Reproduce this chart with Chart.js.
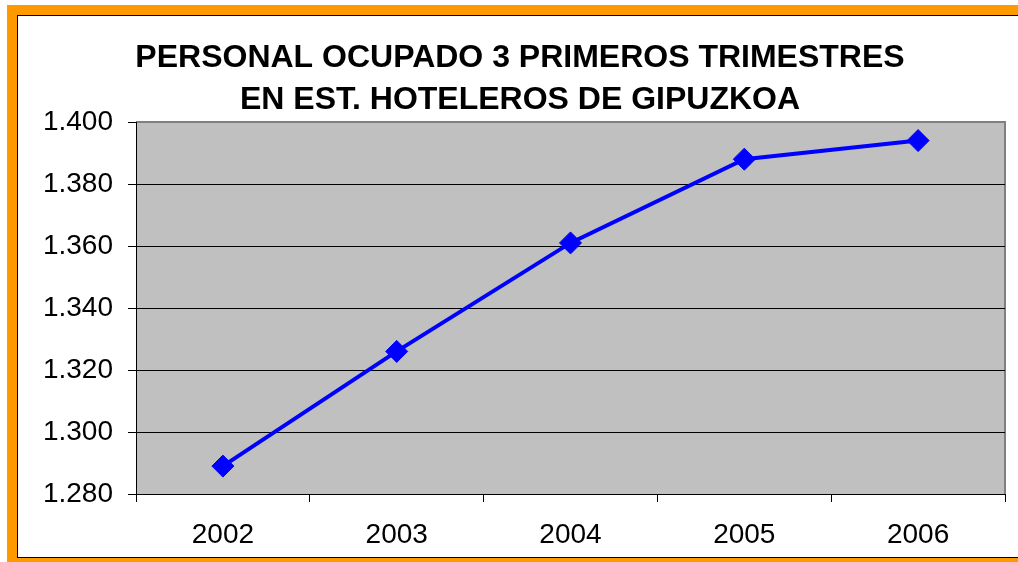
<!DOCTYPE html>
<html>
<head>
<meta charset="utf-8">
<script src="https://cdn.jsdelivr.net/npm/chart.js@4"></script>
<style>
  html, body { margin: 0; padding: 0; background: #fff; overflow: hidden; }
  #frame { position: absolute; left: 7px; top: 5px; width: 1040px; height: 570px; background: #FF9900; }
  #inner { position: absolute; left: 10px; top: 10px; width: 1040px; height: 541px; background: #fff; border: 1px solid #000; }
  #wrap { position: absolute; left: 0; top: 0; width: 1018px; height: 562px; }
</style>
</head>
<body>
<div id="frame"><div id="inner"></div></div>
<div id="wrap"><canvas id="chart"></canvas></div>
<script>
const years = ['2002', '2003', '2004', '2005', '2006'];
const personal = [1289, 1326, 1361, 1388, 1394];
const yMin = 1280;
const yMax = 1400;
const yStep = 20;
const titleLines = ['PERSONAL OCUPADO 3 PRIMEROS TRIMESTRES', 'EN EST. HOTELEROS DE GIPUZKOA'];

const font = '"Liberation Sans", Arial, sans-serif';

function fmt(v) {
  return Math.floor(v / 1000) + '.' + String(v % 1000).padStart(3, '0');
}

const plotBg = {
  id: 'plotBg',
  beforeDraw(chart) {
    const a = chart.chartArea;
    const ctx = chart.ctx;
    ctx.save();
    ctx.fillStyle = '#C0C0C0';
    ctx.fillRect(a.left, a.top, a.right - a.left, a.bottom - a.top);
    ctx.strokeStyle = '#808080';
    ctx.lineWidth = 2;
    ctx.beginPath();
    ctx.moveTo(a.left, a.top);
    ctx.lineTo(a.right, a.top);
    ctx.lineTo(a.right, a.bottom);
    ctx.stroke();
    ctx.restore();
  }
};

const ctx = document.getElementById('chart').getContext('2d');
const chart = new Chart(ctx, {
  type: 'line',
  data: {
    labels: years,
    datasets: [{
      data: personal,
      borderColor: '#0000FF',
      backgroundColor: '#0000FF',
      borderWidth: 4,
      tension: 0,
      pointStyle: 'rectRot',
      pointRadius: 11,
      pointBorderWidth: 1,
      pointBackgroundColor: '#0000FF',
      pointBorderColor: '#0000FF'
    }]
  },
  options: {
    responsive: true,
    maintainAspectRatio: false,
    animation: false,
    layout: { padding: { left: 35, right: 13, top: 0, bottom: 0 } },
    plugins: {
      legend: { display: false },
      tooltip: { enabled: false },
      title: {
        display: true,
        text: titleLines,
        color: '#000',
        font: { family: font, size: 32, weight: 'bold', lineHeight: 1.3125 },
        padding: { top: 37, bottom: 1 }
      }
    },
    scales: {
      x: {
        offset: true,
        afterFit(scale) { scale.height = 68; },
        grid: {
          offset: true,
          drawOnChartArea: false,
          drawTicks: true,
          tickLength: 8,
          color: '#000'
        },
        border: { color: '#000', width: 1 },
        ticks: {
          color: '#000',
          padding: 16,
          font: { family: font, size: 28 }
        }
      },
      y: {
        min: yMin,
        max: yMax,
        afterFit(scale) { scale.width = 101; },
        grid: {
          color: (c) => (c.tick && c.tick.value === yMax ? 'rgba(0,0,0,0)' : '#000'),
          tickColor: '#000',
          tickLength: 8,
          drawTicks: true
        },
        border: { color: '#000', width: 1 },
        ticks: {
          stepSize: yStep,
          color: '#000',
          padding: 15,
          font: { family: font, size: 28 },
          callback: (v) => fmt(v)
        }
      }
    }
  },
  plugins: [plotBg]
});
</script>
</body>
</html>
